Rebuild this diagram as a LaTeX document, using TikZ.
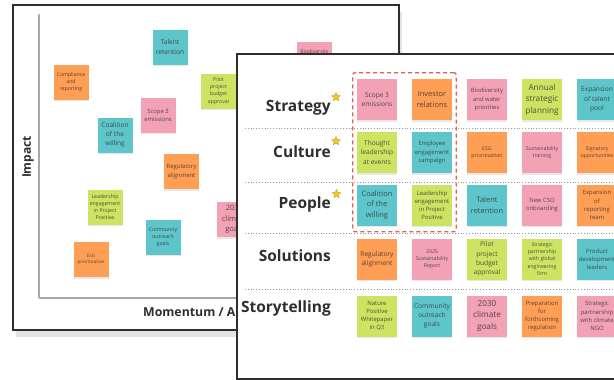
\documentclass[tikz,border=0pt]{standalone}
\usepackage{fontspec}
\setmainfont{Open Sans}
\usetikzlibrary{arrows.meta,positioning,fit,shadows,shapes.geometric}
\definecolor{ink}{HTML}{2E2E2E}
\definecolor{notepink}{HTML}{F3A2B6}
\definecolor{notelime}{HTML}{CDE362}
\definecolor{noteteal}{HTML}{5EC6CA}
\definecolor{noteorange}{HTML}{FF9E55}
\definecolor{axisgrey}{HTML}{A8A8A8}
\definecolor{rulegrey}{HTML}{9A9A9A}
\definecolor{focusred}{HTML}{E2604E}
\definecolor{stargold}{HTML}{F6C623}
\definecolor{starrim}{HTML}{C99A10}
\tikzset{
  >={Latex[length=3pt,width=2.6pt]},
  every node/.style={text=ink},
  panel/.style={draw=ink,line width=1.6pt,fill=white},
  sticky/.style={minimum width=40pt,minimum height=41pt,inner sep=1pt,align=center,text opacity=0.8,
    drop shadow={shadow xshift=0.4pt,shadow yshift=-1.6pt,opacity=0.18}},
  pinkbox/.style={sticky,fill=notepink},
  limebox/.style={sticky,fill=notelime},
  tealbox/.style={sticky,fill=noteteal},
  orangebox/.style={sticky,fill=noteorange},
  rearnote/.style={minimum width=35pt,minimum height=35pt},
  ftiny/.style={font=\fontsize{4.5}{6.6}\selectfont},
  fxs/.style={font=\fontsize{5.2}{7.2}\selectfont},
  fsm/.style={font=\fontsize{5.9}{8.1}\selectfont},
  fmd/.style={font=\fontsize{6.6}{9.2}\selectfont},
  flg/.style={font=\fontsize{7.5}{10.6}\selectfont},
  fxl/.style={font=\fontsize{8.2}{11.5}\selectfont},
  rowlabel/.style={font=\fontsize{15.5}{18}\selectfont\bfseries,anchor=east,inner sep=0pt},
  starmark/.style={star,star points=5,star point ratio=2.2,minimum size=9pt,inner sep=0pt,
    fill=stargold,draw=starrim,line width=0.35pt},
  sepline/.style={draw=rulegrey,dotted,line width=0.8pt},
  focusframe/.style={draw=focusred,line width=1.3pt,dash pattern=on 4pt off 3pt,rounded corners=2pt,
    inner xsep=4pt,inner ysep=6pt},
  axisline/.style={draw=axisgrey,line width=1.1pt},
  axistitle/.style={font=\fontsize{12}{14}\selectfont\bfseries,inner sep=0pt},
}
\begin{document}
\begin{tikzpicture}[x=1pt,y=-1pt]
  \useasboundingbox (0,0) rectangle (614,380);
  \clip (0,0) rectangle (614,380);

  % matrix board at the back
  \draw[panel,drop shadow={shadow xshift=3pt,shadow yshift=-7pt,opacity=0.22}] (13,5) rectangle (399,330);
  \coordinate (origin) at (39,298);
  \coordinate (ytop) at (39,13);
  \coordinate (xend) at (395,298);
  \draw[axisline,->] (origin) -- (ytop);
  \draw[axisline,->] (origin) -- (xend);
  \node[axistitle,rotate=90] (impact) at (28,157) {Impact};
  \node[axistitle,anchor=west,font=\fontsize{12.3}{14}\selectfont\bfseries] (momentum) at (143,313) {Momentum / Alignment};

  \node[tealbox,rearnote,fmd] (b1) at (170,47) {Talent\\retention};
  \node[orangebox,rearnote,fxs] (b2) at (71,82) {Compliance\\and\\reporting};
  \node[limebox,rearnote,fxs] (b3) at (218.5,91) {Pilot\\project\\budget\\approval};
  \node[pinkbox,rearnote,fsm] (b4) at (158,115) {Scope 3\\emissions};
  \node[tealbox,rearnote,fmd] (b5) at (115,135) {Coalition\\of the\\willing};
  \node[orangebox,rearnote,fsm] (b6) at (181.5,171.5) {Regulatory\\alignment};
  \node[limebox,rearnote,fxs] (b7) at (105,207) {Leadership\\engagement\\in Project\\Positive};
  \node[tealbox,rearnote,fxs] (b8) at (163,237) {Community\\outreach\\goals};
  \node[orangebox,rearnote,ftiny] (b9) at (91,259.5) {ESG\\prioritization};
  \node[pinkbox,rearnote,flg] (b10) at (234.5,219.5) {2030\\climate\\goals};
  \node[pinkbox,rearnote,fxs] (b11) at (314.5,59.5) {Biodiversity\\and water\\priorities};

  % priority board in front
  \draw[panel] (237,54) rectangle (618,379);
  \draw[sepline] (245,128) -- (616,128);
  \draw[sepline] (245,182) -- (616,182);
  \draw[sepline] (245,233) -- (616,233);
  \draw[sepline] (245,289) -- (616,289);

  \node[rowlabel] (strategy) at (331,107.5) {Strategy};
  \node[rowlabel] (culture) at (331,152) {Culture};
  \node[rowlabel] (people) at (331,204.5) {People};
  \node[rowlabel] (solutions) at (331,256) {Solutions};
  \node[rowlabel] (story) at (331,308.5) {Storytelling};
  \node[starmark] (star1) at (336,97) {};
  \node[starmark] (star2) at (336,141) {};
  \node[starmark] (star3) at (336.5,194) {};

  \node[pinkbox,fmd] (s11) at (377,99.5) {Scope 3\\emissions};
  \node[orangebox,flg] (s12) at (432,99.5) {Investor\\relations};
  \node[pinkbox,fsm] (s13) at (487,99.5) {Biodiversity\\and water\\priorities};
  \node[limebox,fxl] (s14) at (542,99.5) {Annual\\strategic\\planning};
  \node[tealbox,fmd] (s15) at (597,99.5) {Expansion\\of talent\\pool};

  \node[limebox,fmd] (s21) at (377,152.5) {Thought\\leadership\\at events};
  \node[tealbox,fsm] (s22) at (432,152.5) {Employee\\engagement\\campaign};
  \node[orangebox,fxs] (s23) at (487,152.5) {ESG\\prioritization};
  \node[pinkbox,fxs] (s24) at (542,152.5) {Sustainability\\training};
  \node[orangebox,fxs] (s25) at (597,152.5) {Signatory\\opportunities};

  \node[tealbox,flg] (s31) at (377,205) {Coalition\\of the\\willing};
  \node[limebox,fsm] (s32) at (432,205) {Leadership\\engagement\\in Project\\Positive};
  \node[tealbox,flg] (s33) at (487,205) {Talent\\retention};
  \node[pinkbox,fsm] (s34) at (542,205) {New CSO\\onboarding};
  \node[orangebox,fsm] (s35) at (597,205) {Expansion\\of\\reporting\\team};

  \node[orangebox,fmd] (s41) at (377,259) {Regulatory\\alignment};
  \node[pinkbox,fxs] (s42) at (432,259) {2025\\Sustainability\\Report};
  \node[limebox,fmd] (s43) at (487,259) {Pilot\\project\\budget\\approval};
  \node[limebox,fxs] (s44) at (542,259) {Strategic\\partnership\\with global\\engineering\\firm};
  \node[tealbox,fsm] (s45) at (597,259) {Product\\development\\leaders};

  \node[limebox,fsm] (s51) at (377,316) {Nature\\Positive\\Whitepaper\\in Q3};
  \node[tealbox,fmd] (s52) at (432,316) {Community\\outreach\\goals};
  \node[pinkbox,fxl] (s53) at (487,316) {2030\\climate\\goals};
  \node[orangebox,fsm] (s54) at (542,316) {Preparation\\for\\forthcoming\\regulation};
  \node[pinkbox,fsm] (s55) at (597,316) {Strategic\\partnership\\with climate\\NGO};

  \node[focusframe,fit=(s11)(s32)] (focus) {};
\end{tikzpicture}
\end{document}
